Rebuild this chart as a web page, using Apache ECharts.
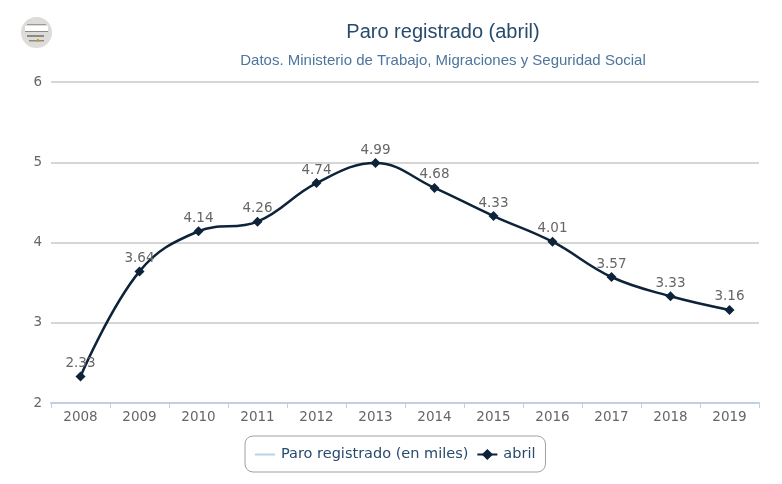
<!DOCTYPE html>
<html><head><meta charset="utf-8">
<style>html,body{margin:0;padding:0;background:#fff}#c{width:782px;height:484px}</style>
<script src="https://cdn.jsdelivr.net/npm/echarts@6/dist/echarts.min.js"></script>
</head><body><div id="c"></div>
<script>
const categories=['2008','2009','2010','2011','2012','2013','2014','2015','2016','2017','2018','2019'];
const abril=[2.33,3.64,4.14,4.26,4.74,4.99,4.68,4.33,4.01,3.57,3.33,3.16];
const emptySeries=[];
const yTicks={min:2,max:6,interval:1};
const chart=echarts.init(document.getElementById('c'),null,{renderer:'canvas'});
chart.setOption({
 animation:false,
 backgroundColor:'#fff',
 title:[
  {text:'Paro registrado (abril)',left:438,top:17,textAlign:'center',textStyle:{fontFamily:'Liberation Sans',fontSize:20,fontWeight:'normal',color:'#274b6d'}},
  {text:'Datos. Ministerio de Trabajo, Migraciones y Seguridad Social',left:438,top:48,textAlign:'center',textStyle:{fontFamily:'Liberation Sans',fontSize:15,fontWeight:'normal',color:'#4d759e'}}
 ],
 legend:{show:true,left:245,top:436,padding:[11,10,10,9],itemGap:8,itemWidth:20,itemHeight:14,
  borderColor:'#a0a0a0',borderWidth:1,borderRadius:8,
  textStyle:{fontFamily:'DejaVu Sans',fontSize:14.5,color:'#274b6d',padding:[0,0,0,1]},
  data:[{name:'Paro registrado (en miles)',itemStyle:{opacity:0}},{name:'abril'}]},
 grid:{left:51,right:23,top:82,bottom:81},
 xAxis:{type:'category',data:categories,boundaryGap:true,
  axisLine:{lineStyle:{color:'#c0d0e0',width:2}},
  axisTick:{show:true,alignWithLabel:false,length:5,lineStyle:{color:'#c0d0e0'}},
  axisLabel:{fontFamily:'DejaVu Sans',fontSize:13.5,color:'#666',margin:7,interval:0},
  splitLine:{show:false}},
 yAxis:{type:'value',min:yTicks.min,max:yTicks.max,interval:yTicks.interval,
  axisLine:{show:false},axisTick:{show:false},
  axisLabel:{fontFamily:'DejaVu Sans',fontSize:13.5,color:'#666',margin:9},
  splitLine:{lineStyle:{color:'#c8c8c8',width:1.5}}},
 series:[
  {name:'Paro registrado (en miles)',type:'line',data:emptySeries,symbol:'none',itemStyle:{color:'#b8d0e8'},lineStyle:{color:'#b8d0e8',width:2.5}},
  {name:'abril',type:'line',data:abril,smooth:0.4,symbol:'diamond',symbolSize:10,
   itemStyle:{color:'#0d233a'},lineStyle:{color:'#0d233a',width:2.5},
   label:{show:true,position:'top',distance:1,fontFamily:'DejaVu Sans',fontSize:13.5,color:'#666'}}
 ],
 graphic:[
  {type:'group',left:21,top:17,children:[
   {type:'circle',shape:{cx:15.5,cy:15.5,r:15.5},style:{fill:'#dddcd9'}},
   {type:'rect',shape:{x:6,y:7,width:19,height:1},style:{fill:'#9a9a96'}},
   {type:'rect',shape:{x:4,y:9,width:23,height:6},style:{fill:'#fff'}},
   {type:'rect',shape:{x:4,y:14,width:23,height:1},style:{fill:'#8a8a86'}},
   {type:'rect',shape:{x:6,y:18,width:17,height:2},style:{fill:'#8a8a86'}},
   {type:'rect',shape:{x:8,y:23,width:15,height:1.5},style:{fill:'#8a8a86'}},
   {type:'rect',shape:{x:16,y:22,width:2,height:3},style:{fill:'#d0a020'}}
  ]}
 ]
});
</script></body></html>
